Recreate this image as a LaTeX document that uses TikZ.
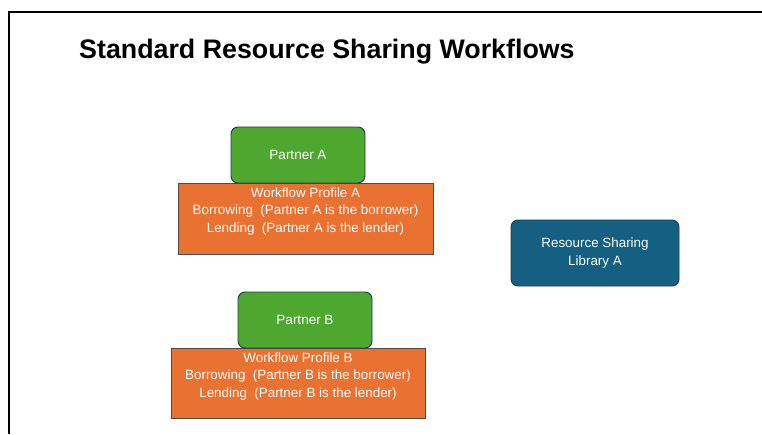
\documentclass[tikz,border=0pt]{standalone}
\usepackage{fontspec}
\setmainfont{Liberation Sans}
\definecolor{pgreen}{HTML}{4EA72E}
\definecolor{porange}{HTML}{E97132}
\definecolor{pblue}{HTML}{156082}
\definecolor{edgedark}{HTML}{1E3A4A}
\begin{document}
\begin{tikzpicture}[x=1pt,y=-1pt,
  greenbox/.style={draw=edgedark, line width=0.9pt, fill=pgreen, rounded corners=7pt, text=white, font=\fontsize{13.5}{16}\selectfont},
  orangebox/.style={draw=black!70, line width=0.6pt, fill=porange, text=white, align=center, font=\fontsize{13.4}{17.5}\selectfont},
  bluebox/.style={draw=edgedark, line width=0.9pt, fill=pblue, rounded corners=7pt, text=white, align=center, font=\fontsize{13.4}{17.5}\selectfont}]
\useasboundingbox (0,0) rectangle (762,434);
\fill[white] (0,0) rectangle (762,434);
\draw[line width=1.6pt] (9,434) -- (9,12) -- (762,12);
\node[anchor=base west, inner sep=0pt, font=\bfseries\fontsize{26.8}{30}\selectfont] (title) at (79,58) {Standard Resource Sharing Workflows};
% Profile A
\draw[orangebox] (178,183) rectangle (433,254);
\node[greenbox, minimum width=134pt, minimum height=56pt] (pa) at (298,155) {Partner A};
\node[orangebox, draw=none, fill=none] (wa) at (305.5,211.5) {Workflow Profile A\\Borrowing\ \ (Partner A is the borrower)\\Lending\ \ (Partner A is the lender)};
% Profile B
\draw[orangebox] (171,348) rectangle (425,418);
\node[greenbox, minimum width=134pt, minimum height=56pt] (pb) at (305,320) {Partner B};
\node[orangebox, draw=none, fill=none] (wb) at (298,376.5) {Workflow Profile B\\Borrowing\ \ (Partner B is the borrower)\\Lending\ \ (Partner B is the lender)};
% Library
\node[bluebox, minimum width=168pt, minimum height=66pt] (lib) at (595,253) {Resource Sharing\\Library A};
\end{tikzpicture}
\end{document}
